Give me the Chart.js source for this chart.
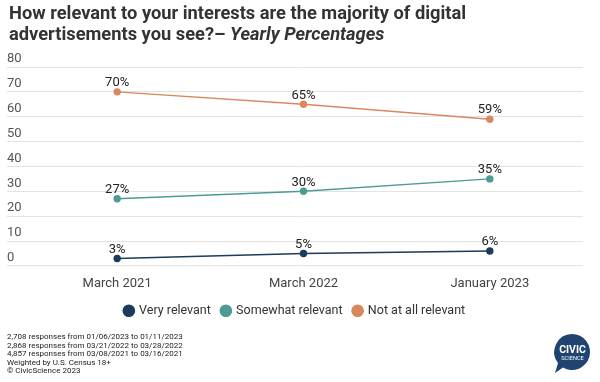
<!DOCTYPE html>
<html>
<head>
<meta charset="utf-8">
<script src="https://cdn.jsdelivr.net/npm/chart.js@4.4.0/dist/chart.umd.min.js"></script>
<style>
  html, body { margin: 0; padding: 0; background: #fff; }
  body { width: 600px; height: 382px; position: relative; overflow: hidden; font-family: Roboto, "Noto Sans", sans-serif; }
  #title { position: absolute; left: 9px; top: 2px; font-size: 18.3px; font-weight: 700; color: #333; line-height: 21px; }
  #title i { font-style: italic; }
  #wrap { position: absolute; left: 0; top: 0; width: 600px; height: 335px; }
  #foot { position: absolute; left: 7px; top: 333px; font-size: 8px; line-height: 8.6px; color: #222; }
  #logo { position: absolute; left: 550px; top: 331px; width: 46px; height: 46px; }
</style>
</head>
<body>
<div id="wrap"><canvas id="c"></canvas></div>
<div id="title">How relevant to your interests are the majority of digital<br>advertisements you see?– <i>Yearly Percentages</i></div>
<div id="foot">2,708 responses from 01/06/2023 to 01/11/2023<br>2,868 responses from 03/21/2022 to 03/28/2022<br>4,857 responses from 03/08/2021 to 03/16/2021<br>Weighted by U.S. Census 18+<br>© CivicScience 2023</div>
<svg id="logo" viewBox="0 0 46 46">
  <path d="M22 3 A18 18 0 1 1 13 36.6 L5 42 L8 32 A18 18 0 0 1 22 3 Z" fill="#1f4470"/>
  <text x="22.5" y="22" text-anchor="middle" font-family="Roboto, sans-serif" font-weight="700" font-size="10.5" fill="#fff">CIVIC</text>
  <text x="22.5" y="29" text-anchor="middle" font-family="Roboto, sans-serif" font-size="5.6" fill="#fff">SCIENCE</text>
</svg>
<script>
const categories = ["March 2021", "March 2022", "January 2023"];
const seriesNames = ["Very relevant", "Somewhat relevant", "Not at all relevant"];
const veryRelevant = [3, 5, 6];
const somewhatRelevant = [27, 30, 35];
const notAtAllRelevant = [70, 65, 59];
const yTicks = [0, 10, 20, 30, 40, 50, 60, 70, 80];
const colors = ["#1d3b5a", "#4c9b95", "#d9875e"];

const seriesValues = [veryRelevant, somewhatRelevant, notAtAllRelevant];

const dataLabels = {
  id: 'dataLabels',
  afterDatasetsDraw(chart) {
    const ctx = chart.ctx;
    ctx.save();
    ctx.font = '13px Roboto, sans-serif';
    ctx.fillStyle = '#222';
    ctx.textAlign = 'center';
    ctx.textBaseline = 'middle';
    chart.data.datasets.forEach((ds, i) => {
      const meta = chart.getDatasetMeta(i);
      meta.data.forEach((pt, j) => {
        ctx.fillText(ds.data[j] + '%', pt.x, pt.y - 9);
      });
    });
    ctx.restore();
  }
};

new Chart(document.getElementById('c'), {
  type: 'line',
  data: {
    labels: categories,
    datasets: seriesNames.map((name, i) => ({
      label: name,
      data: seriesValues[i],
      borderColor: colors[i],
      backgroundColor: colors[i],
      pointBackgroundColor: colors[i],
      pointBorderColor: colors[i],
      borderWidth: 1.4,
      pointRadius: 3,
      tension: 0
    }))
  },
  options: {
    responsive: true,
    maintainAspectRatio: false,
    animation: false,
    layout: { padding: { left: 7, right: 17, top: 67, bottom: 8 } },
    scales: {
      x: {
        offset: true,
        grid: { display: false },
        border: { display: false },
        ticks: { font: { size: 13, family: 'Roboto' }, color: '#444', padding: 2, maxRotation: 0 }
      },
      y: {
        min: 0,
        max: 80,
        afterBuildTicks: (s) => { s.ticks = yTicks.map(v => ({ value: v })); },
        afterFit: (s) => { s.width = 17; },
        grid: { color: '#e3e3e3', lineWidth: 1, drawTicks: true, tickLength: 17 },
        border: { display: false },
        ticks: { crossAlign: 'far', padding: 0, labelOffset: -8, font: { size: 13, family: 'Roboto' }, color: '#555' }
      }
    },
    plugins: {
      tooltip: { enabled: false },
      legend: {
        position: 'bottom',
        labels: {
          usePointStyle: true,
          pointStyle: 'circle',
          boxWidth: 8,
          boxHeight: 8,
          padding: 11,
          font: { size: 12.5, family: 'Roboto' },
          color: '#333'
        }
      }
    }
  },
  plugins: [dataLabels]
});
</script>
</body>
</html>
